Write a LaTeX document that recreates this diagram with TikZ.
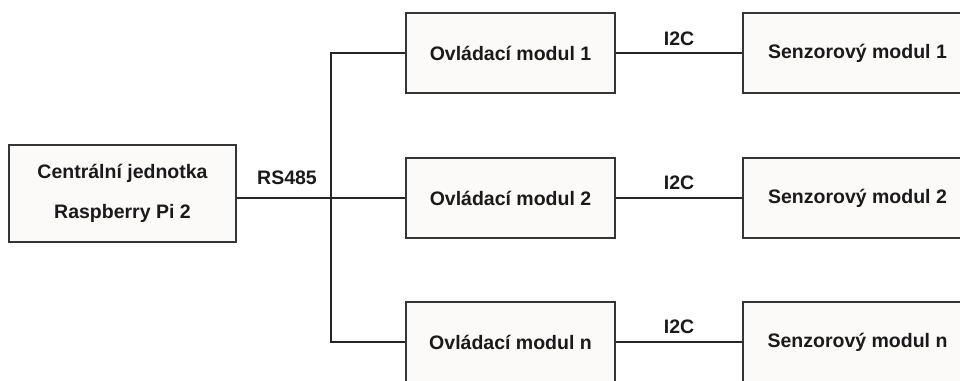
\documentclass[tikz,border=0pt]{standalone}
\usepackage{fontspec}
\setmainfont{Liberation Sans}
\definecolor{boxfill}{HTML}{FCFAF9}
\definecolor{boxline}{HTML}{353535}
\definecolor{txt}{HTML}{1A1A1A}
\begin{document}
\begin{tikzpicture}[x=1pt,y=-1pt,
  blk/.style={draw=boxline,line width=2pt,fill=boxfill,inner sep=0pt,
    minimum width=209pt,minimum height=80pt,text=txt,
    font=\fontsize{19.5}{22}\selectfont\bfseries},
  bus/.style={draw=black!85,line width=2.2pt},
  link/.style={draw=black!85,line width=1.8pt},
  lbl/.style={text=txt,inner sep=0pt,font=\fontsize{19.5}{22}\selectfont\bfseries}]
\useasboundingbox (0,0) rectangle (960,380);
\node[blk,minimum width=227pt,minimum height=97pt,align=center,
  font=\fontsize{19.5}{40}\selectfont\bfseries] (cj) at (122.5,193.5)
  {Centrální jednotka\\Raspberry Pi 2};
\node[blk] (o1) at (510.5,53) {Ovládací modul 1};
\node[blk] (o2) at (510.5,198) {Ovládací modul 2};
\node[blk] (on) at (510.5,342) {Ovládací modul n};
\node[blk,minimum width=229pt] (s1) at (857.5,53) {Senzorový modul 1};
\node[blk,minimum width=229pt] (s2) at (857.5,198) {Senzorový modul 2};
\node[blk,minimum width=229pt] (sn) at (857.5,342) {Senzorový modul n};
\coordinate (top) at (331,53);
\coordinate (mid) at (331,198);
\coordinate (bot) at (331,342);
\draw[bus] (cj.east |- mid) -- (mid);
\draw[bus,line cap=rect] (top) -- (bot);
\draw[bus] (top) -- (o1.west);
\draw[bus] (mid) -- (o2.west);
\draw[bus] (bot) -- (on.west);
\draw[link] (o1.east) -- node[lbl,above=6pt] {I2C} (s1.west);
\draw[link] (o2.east) -- node[lbl,above=7pt] {I2C} (s2.west);
\draw[link] (on.east) -- node[lbl,above=7pt] {I2C} (sn.west);
\node[lbl] (rs) at (287,178) {RS485};
\end{tikzpicture}
\end{document}
